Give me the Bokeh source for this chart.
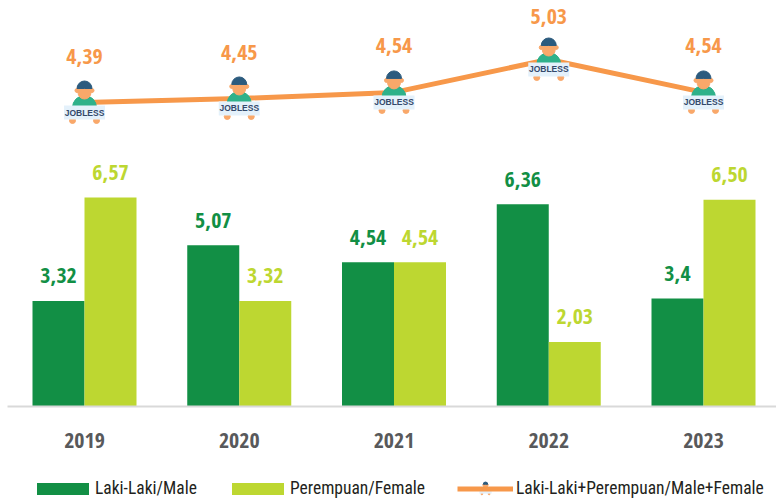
from bokeh.plotting import figure
from bokeh.embed import file_html
from bokeh.resources import INLINE
from bokeh.core.properties import value
from bokeh.models import Range1d, FixedTicker, Legend, LegendItem

years = ["2019", "2020", "2021", "2022", "2023"]
male = [3.32, 5.07, 4.54, 6.36, 3.4]
female = [6.57, 3.32, 4.54, 2.03, 6.50]
total = [4.39, 4.45, 4.54, 5.03, 4.54]
male_labels = ["3,32", "5,07", "4,54", "6,36", "3,4"]
female_labels = ["6,57", "3,32", "4,54", "2,03", "6,50"]
total_labels = ["4,39", "4,45", "4,54", "5,03", "4,54"]

DARK, LIGHT, ORANGE = "#128f45", "#bdd731", "#f7984a"
FAMILY = "Open Sans Condensed"
LEG_FAMILY = "Roboto Condensed"
FONT = value(FAMILY)
W, H = 776, 501
PX_X, PX_Y, PX_L = 154.75, 31.8, 67.2

xs = list(range(len(years)))
p = figure(width=W, height=H, output_backend="svg", toolbar_location=None,
           x_range=Range1d(-84 / PX_X, 692 / PX_X),
           y_range=Range1d(-95 / PX_Y, 406 / PX_Y),
           min_border_left=0, min_border_right=0, min_border_top=0, min_border_bottom=0,
           outline_line_color=None, background_fill_color="white")
p.grid.visible = False
p.yaxis.visible = False
p.extra_y_ranges = {"line": Range1d(4.39 - 399 / PX_L, 4.39 + 102 / PX_L)}

ax = p.xaxis[0]
ax.fixed_location = 0
ax.bounds = (-77 / PX_X, 692 / PX_X)
ax.ticker = FixedTicker(ticks=xs)
ax.major_label_overrides = {i: y for i, y in zip(xs, years)}
ax.major_tick_line_color = None
ax.minor_tick_line_color = None
ax.axis_line_color = "#d9d9d9"
ax.axis_line_width = 2
ax.major_label_standoff = 20
ax.major_label_text_font = FAMILY
ax.major_label_text_font_style = "bold"
ax.major_label_text_font_size = "22px"
ax.major_label_text_color = "#58595b"

bw = 52 / PX_X
xm = [x - bw / 2 for x in xs]
xf = [x + bw / 2 for x in xs]
r_m = p.vbar(x=xm, top=male, bottom=0, width=bw, fill_color=DARK, line_color=None)
r_f = p.vbar(x=xf, top=female, bottom=0, width=bw, fill_color=LIGHT, line_color=None)
p.text(x=xm, y=male, text=male_labels, text_color=DARK, text_font=FONT, text_font_style="bold",
       text_font_size="22px", text_align="center", text_baseline="middle", y_offset=-25)
p.text(x=xf, y=female, text=female_labels, text_color=LIGHT, text_font=FONT, text_font_style="bold",
       text_font_size="22px", text_align="center", text_baseline="middle", y_offset=-25)

r_l = p.line(x=xs, y=total, y_range_name="line", line_color=ORANGE, line_width=5)
p.text(x=xs, y=total, y_range_name="line", text=total_labels, text_color=ORANGE, text_font=FONT,
       text_font_style="bold", text_font_size="22px", text_align="center",
       text_baseline="middle", y_offset=[-46, -46, -47, -43, -47])


def person(px, py, k=1.0, level="glyph", range_name="line", pxy=PX_L):
    """Draw the small 'jobless' figure around data point lists px, py; k scales it."""
    up = lambda d: [v + d * k / pxy for v in py]
    kw = dict(y_range_name=range_name, level=level)
    # hands
    p.scatter([x - 12 * k / PX_X for x in px], up(-18), size=6 * k, color="#f9a86a", **kw)
    p.scatter([x + 12 * k / PX_X for x in px], up(-18), size=6 * k, color="#f9a86a", **kw)
    # shirt
    p.wedge(px, up(-5), radius=12 * k, radius_units="screen", start_angle=0, end_angle=3.1416,
            color="#2fb18a", **kw)
    # ears, face, hair
    p.scatter([x - 7.5 * k / PX_X for x in px], up(12), size=4 * k, color="#f9a86a", **kw)
    p.scatter([x + 7.5 * k / PX_X for x in px], up(12), size=4 * k, color="#f9a86a", **kw)
    p.scatter(px, up(10), size=13 * k, color="#f9a86a", **kw)
    p.wedge(px, up(14), radius=7.5 * k, radius_units="screen", start_angle=0, end_angle=3.1416,
            color="#2c5b7e", **kw)
    # sign
    p.rect(px, up(-10), width=41 * k, height=14 * k, width_units="screen", height_units="screen",
           fill_color="#e4f1fb", line_color=None, **kw)
    if k > 0.5:
        p.text(px, up(-10), text=["JOBLESS"] * len(px), text_color="#34496b",
               text_font=value("Liberation Sans"), text_font_style="bold", text_font_size="8.5px",
               text_align="center", text_baseline="middle", **kw)


person(xs, total)


def legend(renderer, label, x, y, gw, gh, standoff):
    lg = Legend(items=[LegendItem(label=label, renderers=[renderer])], location=(x, y),
                orientation="horizontal", glyph_width=gw, glyph_height=gh, label_standoff=standoff,
                padding=0, margin=0, border_line_color=None, background_fill_alpha=0,
                label_text_font=LEG_FAMILY, label_text_font_size="17.5px",
                label_text_color="#231f20")
    p.add_layout(lg, "center")


legend(r_m, "Laki-Laki/Male", 30, 3, 65, 15, 0)
legend(r_f, "Perempuan/Female", 225, 3, 65, 15, 0)
legend(r_l, "Laki-Laki+Perempuan/Male+Female", 457, 3, 56, 15, 3)

# tiny figure on the legend's line swatch, above the legend
leg_x = (485 - 84) / PX_X
leg_y = 4.39 - (488 - 102) / PX_L
person([leg_x], [leg_y], k=0.3, level="overlay")

open("out.html", "w").write(file_html(p, INLINE))
